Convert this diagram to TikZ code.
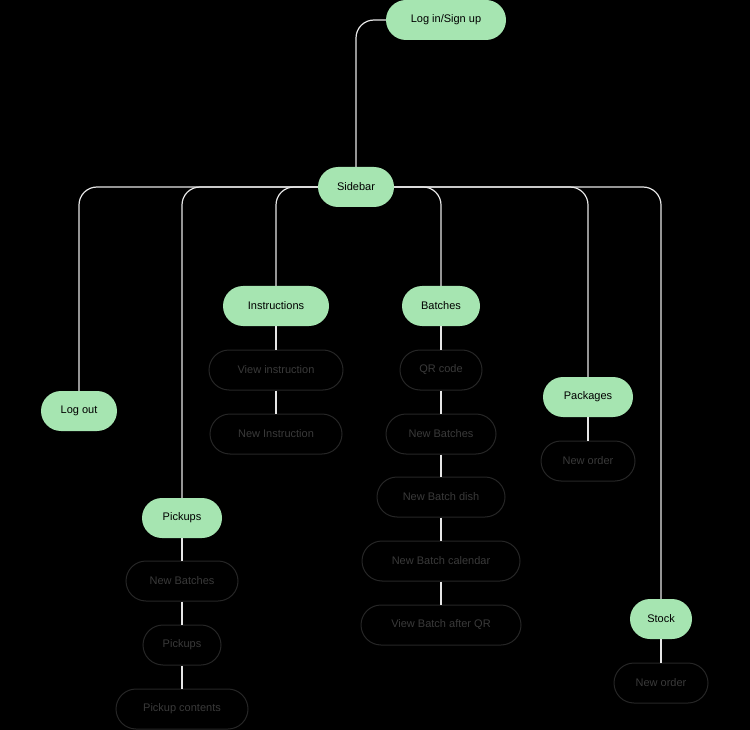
\documentclass[tikz,border=0pt]{standalone}
\usepackage{fontspec}
\setmainfont{Liberation Sans}
\begin{document}
\begin{tikzpicture}[x=1pt,y=-1pt,
  g/.style={rounded corners=20pt,fill=mygreen,text=black,minimum height=40pt,inner sep=0pt,font=\fontsize{11}{13}\selectfont},
  d/.style={rounded corners=20pt,fill=black,draw=mydark,line width=1pt,text=mytext,minimum height=40pt,inner sep=0pt,font=\fontsize{11}{13}\selectfont},
  ln/.style={draw=lineclr,line width=1.2pt,rounded corners=18pt}]
\definecolor{mygreen}{HTML}{A6E5B1}
\definecolor{mydark}{HTML}{262626}
\definecolor{mytext}{HTML}{3A3A3A}
\definecolor{lineclr}{HTML}{E6E6E6}
\fill[black] (0,0) rectangle (750,730);
\useasboundingbox (0,0) rectangle (750,730);
\node[g,minimum width=120pt] (login) at (446,20) {Log in/Sign up};
\node[g,minimum width=76pt] (side) at (356,187) {Sidebar};
\node[g,minimum width=106pt] (instr) at (276,306) {Instructions};
\node[g,minimum width=78pt] (batch) at (441,306) {Batches};
\node[g,minimum width=76pt] (logout) at (79,411) {Log out};
\node[g,minimum width=90pt] (pack) at (588,397) {Packages};
\node[g,minimum width=80pt] (pick) at (182,518) {Pickups};
\node[g,minimum width=62pt] (stock) at (661,619) {Stock};
\node[d,minimum width=134pt] (vi) at (276,370) {View instruction};
\node[d,minimum width=132pt] (ni) at (276,434) {New Instruction};
\node[d,minimum width=82pt] (qr) at (441,370) {QR code};
\node[d,minimum width=110pt] (nb) at (441,434) {New Batches};
\node[d,minimum width=128pt] (nbd) at (441,497) {New Batch dish};
\node[d,minimum width=158pt] (nbc) at (441,561) {New Batch calendar};
\node[d,minimum width=160pt] (vba) at (441,625) {View Batch after QR};
\node[d,minimum width=94pt] (no1) at (588,461) {New order};
\node[d,minimum width=112pt] (pnb) at (182,581) {New Batches};
\node[d,minimum width=78pt] (pp) at (182,645) {Pickups};
\node[d,minimum width=132pt] (pc) at (182,709) {Pickup contents};
\node[d,minimum width=94pt] (no2) at (661,683) {New order};
\draw[ln] (login.west) -| (side.north);
\draw[ln] (side.west) -| (logout.north);
\draw[ln] (side.west) -| (pick.north);
\draw[ln] (side.west) -| (instr.north);
\draw[ln] (side.east) -| (batch.north);
\draw[ln] (side.east) -| (pack.north);
\draw[ln] (side.east) -| (stock.north);
\draw[ln] (instr) -- (vi); \draw[ln] (vi) -- (ni);
\draw[ln] (batch) -- (qr); \draw[ln] (qr) -- (nb); \draw[ln] (nb) -- (nbd);
\draw[ln] (nbd) -- (nbc); \draw[ln] (nbc) -- (vba);
\draw[ln] (pack) -- (no1);
\draw[ln] (pick) -- (pnb); \draw[ln] (pnb) -- (pp); \draw[ln] (pp) -- (pc);
\draw[ln] (stock) -- (no2);
\end{tikzpicture}
\end{document}
